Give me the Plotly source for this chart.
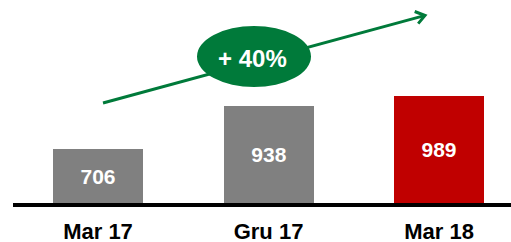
import plotly.graph_objects as go

# ---- data ----
categories = ["Mar 17", "Gru 17", "Mar 18"]
values = [706, 938, 989]
bar_colors = ["#808080", "#808080", "#C00000"]
growth_label = "+ 40%"

# ---- layout constants ----
W, H = 511, 242
ML, MR, MT, MB = 13, 0, 0, 39
Y_MIN, Y_MAX = 418, 1502
x_pos = list(range(len(categories)))

fig = go.Figure()
fig.add_trace(go.Bar(
    x=x_pos,
    y=[v - Y_MIN for v in values],
    base=[Y_MIN] * len(values),
    width=0.528,
    marker=dict(color=bar_colors, line=dict(width=0)),
    text=[str(v) for v in values],
    texttemplate="%{text}",
    textposition="inside",
    insidetextanchor="middle",
    textangle=0,
    textfont=dict(family="Liberation Sans", size=21, color="white", weight="bold"),
    hoverinfo="skip",
))

pw = W - ML - MR
ph = H - MT - MB

def px(x):
    return (x - ML) / pw

def py(y):
    return (ph + MT - y) / ph

tail = (103, 103)
head = (425, 15.5)
arm1 = (414.7, 11.5)
arm2 = (418.2, 23.6)
green = "#007A3A"

# arrow shaft (drawn as a shape so the ellipse can cover it)
fig.add_shape(type="line", xref="paper", yref="paper",
              x0=px(tail[0]), y0=py(tail[1]), x1=px(head[0] - 1.5), y1=py(head[1] + 0.4),
              line=dict(color=green, width=3), layer="above")
# arrow head (open chevron)
fig.add_shape(type="path", xref="paper", yref="paper",
              path=(f"M {px(arm1[0])} {py(arm1[1])} L {px(head[0])} {py(head[1])} "
                    f"L {px(arm2[0])} {py(arm2[1])}"),
              line=dict(color=green, width=3), layer="above")
# ellipse
fig.add_shape(type="circle", xref="paper", yref="paper",
              x0=px(197), x1=px(311), y0=py(87), y1=py(26),
              fillcolor=green, line=dict(width=0), layer="above")
# growth label
fig.add_annotation(xref="paper", yref="paper", x=px(252), y=py(59),
                   xanchor="center", yanchor="middle",
                   text=growth_label, showarrow=False,
                   font=dict(family="Liberation Sans", size=24, color="white", weight="bold"))

fig.update_layout(
    width=W, height=H,
    margin=dict(l=ML, r=MR, t=MT, b=MB, pad=0, autoexpand=False),
    paper_bgcolor="white", plot_bgcolor="white",
    showlegend=False,
    bargap=0,
    xaxis=dict(range=[-0.4985, 2.422], tickvals=x_pos, ticktext=categories,
               showgrid=False, zeroline=False, showline=True, linecolor="black",
               linewidth=4, ticks="", fixedrange=True, automargin=False,
               ticklabelstandoff=6,
               tickfont=dict(family="Liberation Sans", size=22, color="black", weight="bold")),
    yaxis=dict(range=[Y_MIN, Y_MAX], visible=False, showgrid=False, zeroline=False,
               fixedrange=True, automargin=False),
)

fig.write_html("out.html", config={"displayModeBar": False},
               post_script="document.body.style.margin='0';document.body.style.overflow='hidden';")
